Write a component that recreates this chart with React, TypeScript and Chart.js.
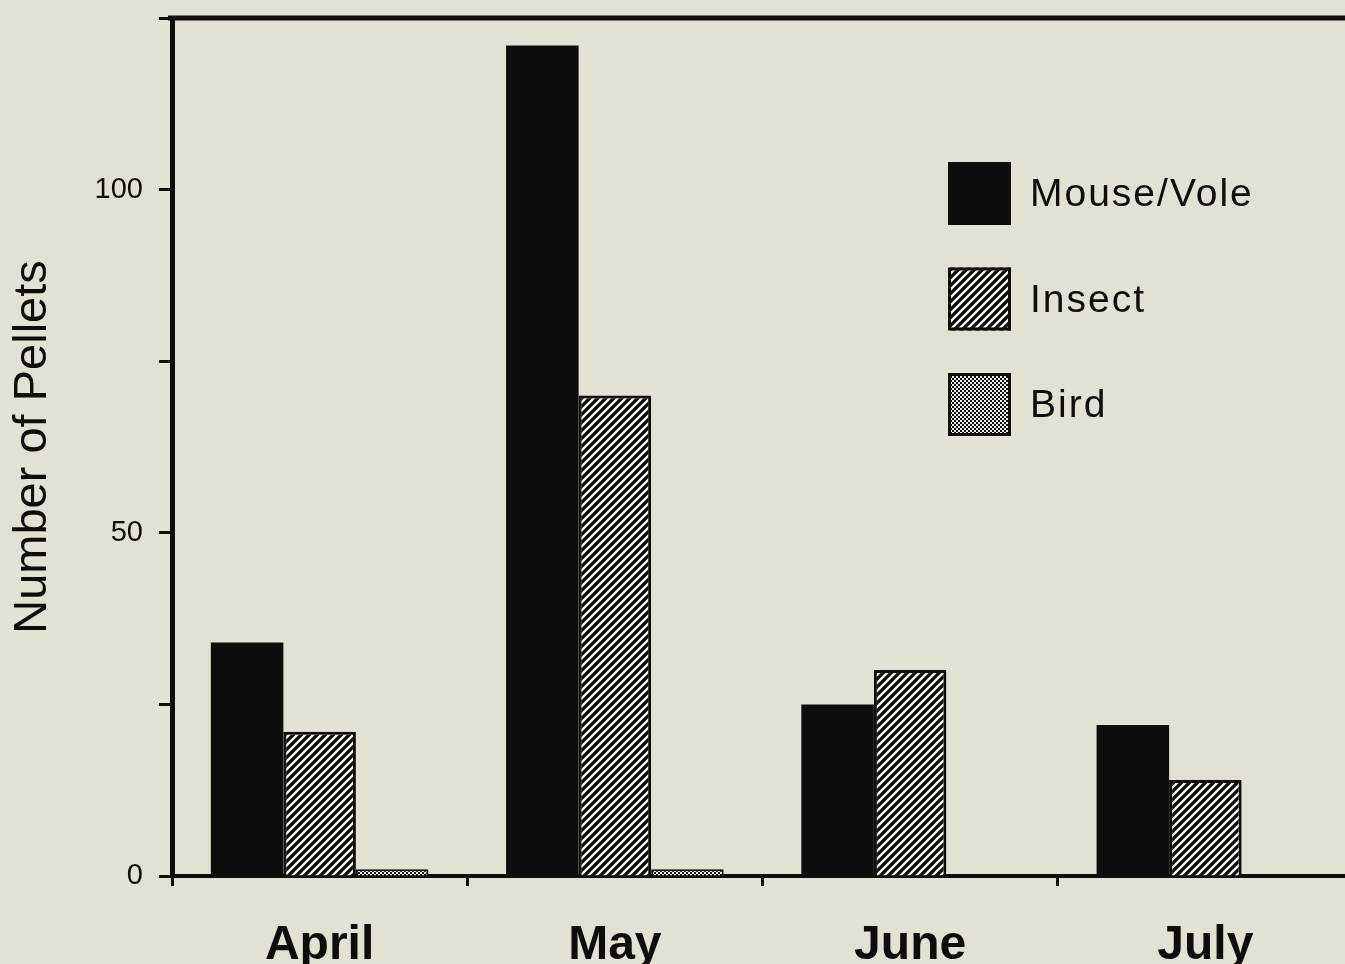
import React, { useEffect, useRef } from 'react';
import { Chart, registerables } from 'chart.js';

Chart.register(...registerables);

// ---- data ----
const months = ['April', 'May', 'June', 'July'];
const mouseVole = [34, 121, 25, 22];
const insect = [21, 70, 30, 14];
const bird = [1, 1, 0, 0];
const seriesLabels = ['Mouse/Vole', 'Insect', 'Bird'];
const yLabelledTicks = [0, 50, 100];
const yTitle = 'Number of Pellets';

const BG = '#e3e1d3';
const INK = '#0d0d0d';
const FONT = '"Liberation Sans", Arial, Helvetica, sans-serif';

function makeHatch(ctx: CanvasRenderingContext2D): CanvasPattern | string {
  const s = 8;
  const c = document.createElement('canvas');
  c.width = s;
  c.height = s;
  const g = c.getContext('2d')!;
  g.fillStyle = INK;
  g.fillRect(0, 0, s, s);
  g.strokeStyle = '#f3f2ea';
  g.lineWidth = 2.3;
  g.beginPath();
  g.moveTo(-1, s + 1);
  g.lineTo(s + 1, -1);
  g.moveTo(-1, 1);
  g.lineTo(1, -1);
  g.moveTo(s - 1, s + 1);
  g.lineTo(s + 1, s - 1);
  g.stroke();
  return ctx.createPattern(c, 'repeat') || INK;
}

function makeChecker(ctx: CanvasRenderingContext2D): CanvasPattern | string {
  const c = document.createElement('canvas');
  c.width = 4;
  c.height = 4;
  const g = c.getContext('2d')!;
  g.fillStyle = INK;
  g.fillRect(0, 0, 4, 4);
  g.fillStyle = '#f3f2ea';
  g.fillRect(0, 0, 2, 2);
  g.fillRect(2, 2, 2, 2);
  return ctx.createPattern(c, 'repeat') || INK;
}

export default function App() {
  const ref = useRef<HTMLCanvasElement | null>(null);

  useEffect(() => {
    const canvas = ref.current;
    if (!canvas) return;
    const ctx = canvas.getContext('2d')!;
    const hatch = makeHatch(ctx);
    const checker = makeChecker(ctx);
    const fills = [INK, hatch, checker];

    const bgPlugin = {
      id: 'bg',
      beforeDraw(chart: any) {
        const c = chart.ctx;
        c.save();
        c.fillStyle = BG;
        c.fillRect(0, 0, chart.width, chart.height);
        c.restore();
      },
    };

    const framePlugin = {
      id: 'frame',
      afterDraw(chart: any) {
        const { ctx: c, chartArea: a } = chart;
        c.save();
        c.strokeStyle = INK;
        c.lineWidth = 5;
        c.beginPath();
        c.moveTo(a.left - 4, a.top);
        c.lineTo(a.right + 10, a.top);
        c.stroke();
        c.restore();
      },
    };

    const legendPlugin = {
      id: 'customLegend',
      afterDraw(chart: any) {
        const { ctx: c, chartArea: a } = chart;
        const boxX = a.left + 776;
        const box = 63;
        const step = 105.5;
        const top0 = a.top + 144;
        c.save();
        seriesLabels.forEach((label, i) => {
          const y = top0 + i * step;
          c.fillStyle = fills[i] as any;
          c.fillRect(boxX, y, box, box);
          c.strokeStyle = INK;
          c.lineWidth = 3;
          c.strokeRect(boxX + 1.5, y + 1.5, box - 3, box - 3);
          c.fillStyle = INK;
          c.font = `39px ${FONT}`;
          (c as any).letterSpacing = '2px';
          c.textBaseline = 'middle';
          c.textAlign = 'left';
          c.fillText(label, boxX + 82, y + box / 2 + 2);
        });
        c.restore();
      },
    };

    const chart = new Chart(canvas, {
      type: 'bar',
      data: {
        labels: months,
        datasets: [
          {
            label: seriesLabels[0],
            data: mouseVole,
            backgroundColor: INK,
            borderColor: INK,
            borderWidth: 0,
          },
          {
            label: seriesLabels[1],
            data: insect,
            backgroundColor: hatch as any,
            borderColor: INK,
            borderWidth: 3,
          },
          {
            label: seriesLabels[2],
            data: bird,
            backgroundColor: checker as any,
            borderColor: INK,
            borderWidth: 2,
          },
        ],
      },
      options: {
        responsive: false,
        animation: false,
        devicePixelRatio: 1,
        layout: { padding: { top: 18, right: 7, left: 0, bottom: 0 } },
        datasets: {
          bar: { barPercentage: 1, categoryPercentage: 0.737 },
        },
        plugins: {
          legend: { display: false },
          tooltip: { enabled: false },
          title: { display: false },
        },
        scales: {
          x: {
            type: 'category',
            offset: true,
            grid: {
              display: true,
              offset: true,
              drawOnChartArea: false,
              drawTicks: true,
              tickLength: 10,
              tickWidth: 3,
              tickColor: INK,
            },
            border: { display: true, color: INK, width: 4 },
            ticks: {
              color: INK,
              font: { family: FONT, size: 48, weight: 'bold' },
              padding: 31,
              maxRotation: 0,
            },
            afterFit(scale: any) {
              scale.height = 88;
              scale.paddingLeft = 0;
              scale.paddingRight = 0;
            },
          },
          y: {
            type: 'linear',
            min: 0,
            max: 125,
            grid: {
              display: true,
              drawOnChartArea: false,
              drawTicks: true,
              tickLength: 13,
              tickWidth: 3,
              tickColor: INK,
            },
            border: { display: true, color: INK, width: 5 },
            ticks: {
              stepSize: 25,
              color: INK,
              font: { family: FONT, size: 29 },
              padding: 16,
              callback: (v: any) => (yLabelledTicks.includes(Number(v)) ? String(v) : ''),
            },
            title: {
              display: true,
              text: yTitle,
              color: INK,
              font: { family: FONT, size: 47 },
              padding: { top: 5, bottom: 0 },
            },
            afterFit(scale: any) {
              scale.width = 172;
              scale.paddingTop = 0;
              scale.paddingBottom = 0;
            },
          },
        },
      },
      plugins: [bgPlugin, framePlugin, legendPlugin],
    } as any);

    return () => chart.destroy();
  }, []);

  return (
    <div
      style={{
        position: 'fixed',
        left: 0,
        top: 0,
        width: 1345,
        height: 964,
        overflow: 'hidden',
        background: BG,
      }}
    >
      <canvas ref={ref} width={1360} height={964} style={{ display: 'block', width: 1360, height: 964 }} />
    </div>
  );
}
